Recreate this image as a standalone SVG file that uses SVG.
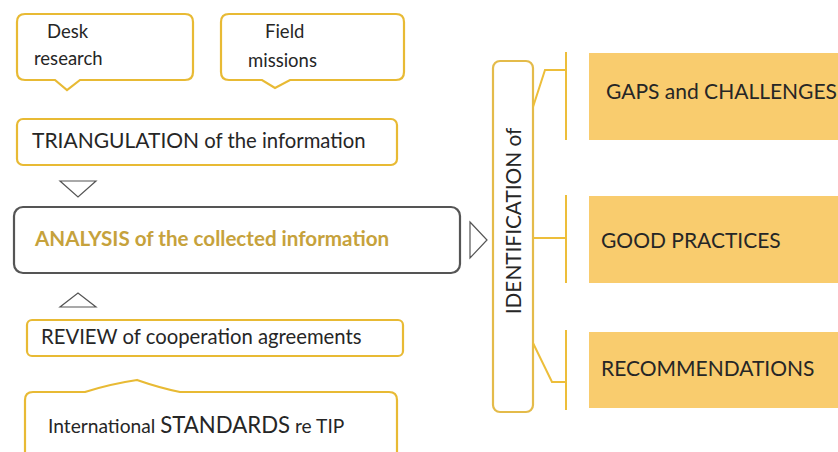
<svg xmlns="http://www.w3.org/2000/svg" width="838" height="452" viewBox="0 0 838 452">
<style>
text{font-family:Lato,"Open Sans","Liberation Sans",sans-serif;fill:#262626}
.call{fill:#fff;stroke:#E8BA34;stroke-width:2.2}
.tri{fill:#fff;stroke:#555;stroke-width:1.2}
.gold{fill:#F9CC6E}
.ln{stroke:#EDBE3A;stroke-width:2;fill:none}
.t16{font-size:18.5px}
.t18{font-size:20.3px}
.t19{font-size:21px}
</style>
<rect width="838" height="452" fill="#fff"/>
<g id="desk">
<path class="call" d="M25,14 H185 Q193,14 193,22 V72 Q193,80 185,80 H80 L67,90 L55,80 H25 Q17,80 17,72 V22 Q17,14 25,14 Z"/>
<text class="t16" x="47" y="38">Desk</text>
<text class="t16" x="34" y="65">research</text>
</g>
<g id="field">
<path class="call" d="M229,14 H396 Q404,14 404,22 V72 Q404,80 396,80 H290 L275,88 L262,80 H229 Q221,80 221,72 V22 Q221,14 229,14 Z"/>
<text class="t16" x="265" y="38">Field</text>
<text class="t16" x="248" y="67">missions</text>
</g>
<g id="triangulation">
<rect class="call" x="17" y="119" width="380" height="46" rx="6"/>
<text class="t18" x="32" y="148"><tspan font-size="21">TRIANGULATION</tspan> of the information</text>
</g>
<g id="analysis">
<rect x="14" y="207" width="446" height="66" rx="9" fill="#fff" stroke="#555" stroke-width="2.2"/>
<text x="35" y="246" font-size="20.6" font-weight="bold" style="fill:#C6A23C">ANALYSIS of the collected information</text>
</g>
<g id="review">
<rect class="call" x="27" y="320" width="376" height="36" rx="5"/>
<text class="t18" x="41" y="344">REVIEW of cooperation agreements</text>
</g>
<g id="standards">
<path class="call" d="M33,392 H85 Q110,384 137,380 Q160,388 180,392 H389 Q397,392 397,400 V460 H25 V400 Q25,392 33,392 Z"/>
<text x="48" y="433" font-size="19.2"><tspan>International </tspan><tspan font-size="22.2">STANDARDS</tspan><tspan> re TIP</tspan></text>
</g>
<g id="identification">
<rect x="493" y="61" width="40" height="351" rx="7" fill="#fff" stroke="#E4BB4A" stroke-width="2.2"/>
<text transform="translate(521,221) rotate(-90)" text-anchor="middle" font-size="20.8">IDENTIFICATION of</text>
</g>
<g id="gaps">
<rect class="gold" x="589" y="53" width="260" height="87"/>
<text class="t19" x="606" y="99">GAPS and CHALLENGES</text>
</g>
<g id="good">
<rect class="gold" x="589" y="196" width="260" height="87"/>
<text class="t19" x="601" y="248">GOOD PRACTICES</text>
</g>
<g id="recs">
<rect class="gold" x="589" y="332" width="260" height="76"/>
<text class="t19" x="601" y="376">RECOMMENDATIONS</text>
</g>
<g id="connectors">
<path class="tri" d="M60,181 H96 L78,197 Z"/>
<path class="tri" d="M60,307 H96 L78,293 Z"/>
<path class="tri" d="M470,222 L487,240 L470,258 Z"/>
<line class="ln" x1="566" y1="52" x2="566" y2="140"/>
<line class="ln" x1="566" y1="195" x2="566" y2="283"/>
<line class="ln" x1="566" y1="330" x2="566" y2="410"/>
<path class="ln" d="M533,107 L545,70 H566"/>
<path class="ln" d="M533,238 H566"/>
<path class="ln" d="M533,343 L552,382 H566"/>
</g>
</svg>
